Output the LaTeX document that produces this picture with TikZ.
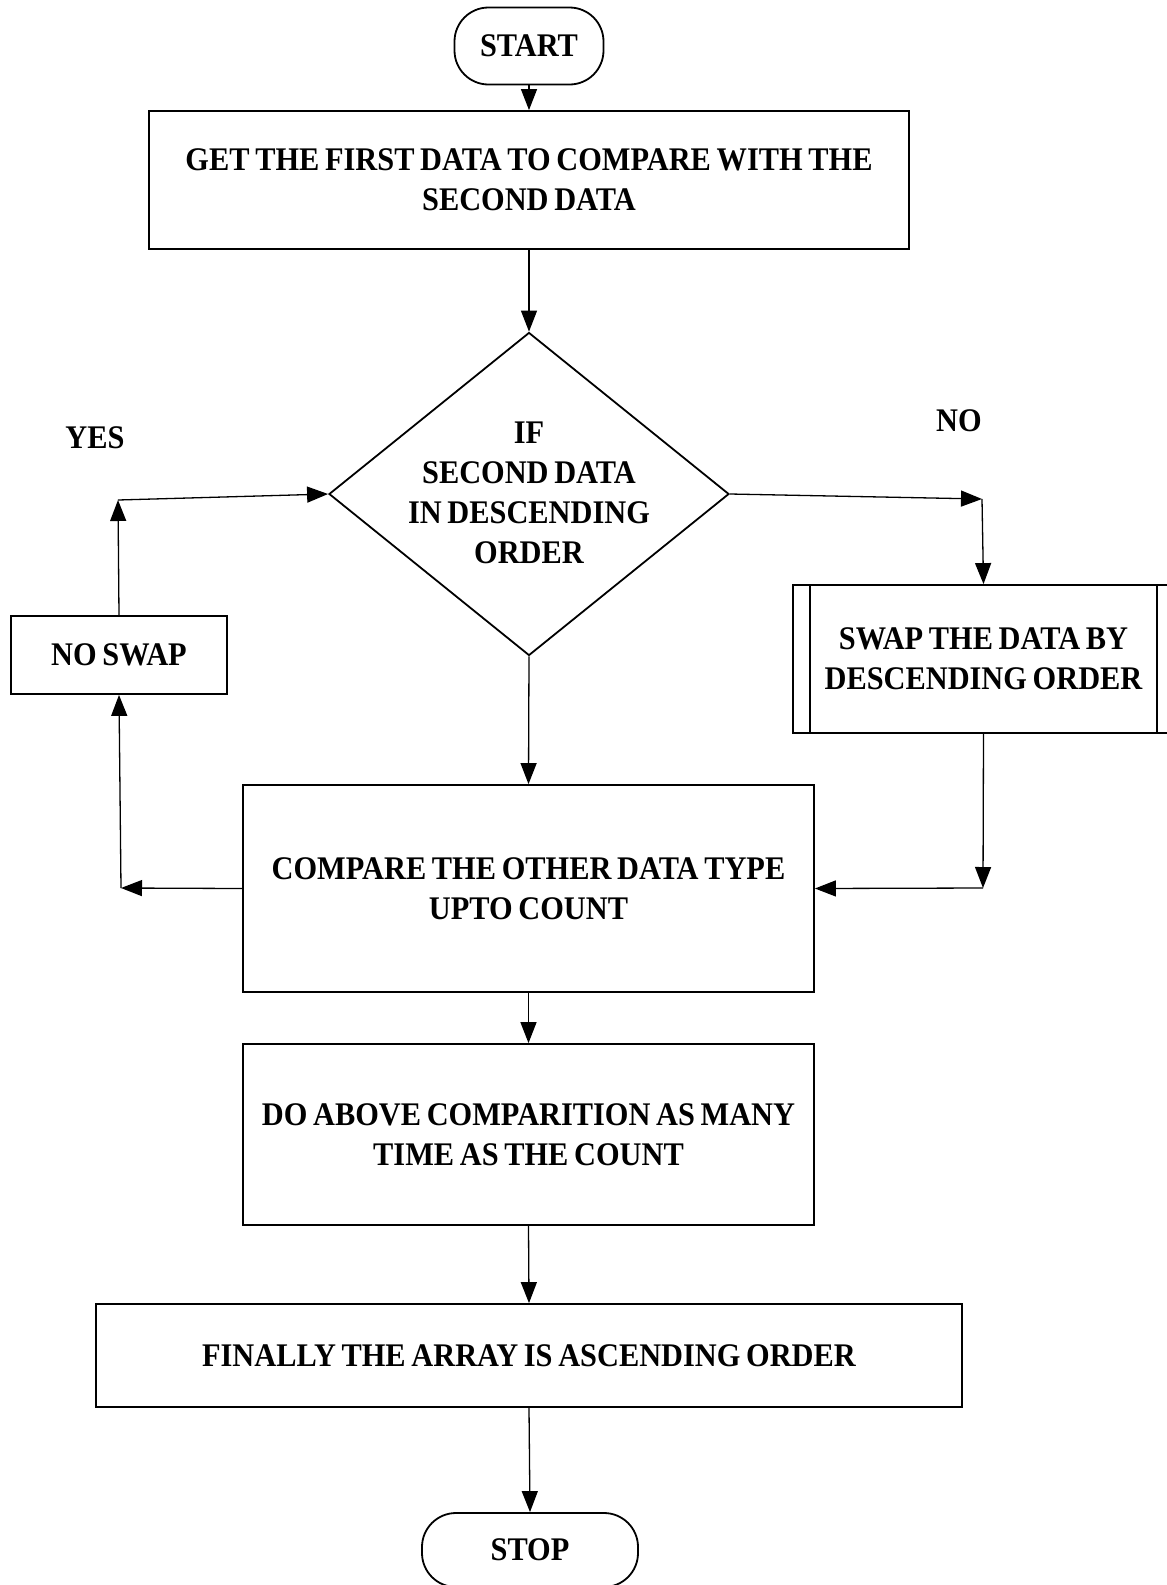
\documentclass[tikz,border=0pt]{standalone}
\usepackage{fontspec}
\setmainfont{Liberation Serif}[FakeStretch=0.92,WordSpace=0.75]
\usetikzlibrary{arrows.meta,shapes.geometric}
\begin{document}
\begin{tikzpicture}[x=1pt,y=-1pt,
  every node/.style={font=\fontsize{33}{40}\selectfont\bfseries, align=center, inner sep=0pt},
  box/.style={draw, line width=1.8pt, rectangle},
  term/.style={draw, line width=1.8pt, rectangle, rounded corners=34pt},
  arr/.style={line width=1.3pt, -{Triangle[length=21pt,width=16pt]}}]
\clip (0,0) rectangle (1167,1585);
\node[term, minimum width=149pt, minimum height=77pt] (start) at (529,46) {START};
\node[box, minimum width=760pt, minimum height=138pt] (b1) at (529,180) {GET THE FIRST DATA TO COMPARE WITH THE\\SECOND DATA};
\node[draw, line width=1.8pt, diamond, minimum width=400pt, minimum height=323pt] (dia) at (529,494) {};
\node (diat) at (529,493) {IF\\SECOND DATA\\IN DESCENDING\\ORDER};
\node[box, minimum width=216pt, minimum height=78pt] (noswap) at (119,655) {NO SWAP};
\node[box, minimum width=381pt, minimum height=148pt] (swap) at (983.5,659) {SWAP THE DATA BY\\DESCENDING ORDER};
\draw[line width=1.8pt] ([xshift=18pt]swap.north west) -- ([xshift=18pt]swap.south west);
\draw[line width=1.8pt] ([xshift=-18pt]swap.north east) -- ([xshift=-18pt]swap.south east);
\node[box, minimum width=571pt, minimum height=207pt] (cmp) at (528.5,888.5) {COMPARE THE OTHER DATA TYPE\\UPTO COUNT};
\node[box, minimum width=571pt, minimum height=181pt] (b3) at (528.5,1134.5) {DO ABOVE COMPARITION AS MANY\\TIME AS THE COUNT};
\node[box, minimum width=866pt, minimum height=103pt] (b4) at (529,1355.5) {FINALLY THE ARRAY IS ASCENDING ORDER};
\node[term, minimum width=216pt, minimum height=74pt] (stop) at (530,1550) {STOP};
\node (yes) at (95,438) {YES};
\node (no) at (959,421) {NO};
\coordinate (c1) at (118,500);
\coordinate (c2) at (982,499);
\coordinate (c3) at (983,888);
\coordinate (c4) at (121,888);
\draw[arr] (start.south) -- (b1.north);
\draw[arr] (b1.south) -- (dia.north);
\draw[arr] (noswap.north) -- (c1);
\draw[arr] (c1) -- (dia.west);
\draw[arr] (dia.east) -- (c2);
\draw[arr] (c2) -- (swap.north);
\draw[arr] (swap.south) -- (c3);
\draw[arr] (c3) -- (cmp.east);
\draw[arr] (cmp.west) -- (c4);
\draw[arr] (c4) -- (noswap.south);
\draw[arr] (dia.south) -- (cmp.north);
\draw[arr] (cmp.south) -- (b3.north);
\draw[arr] (b3.south) -- (b4.north);
\draw[arr] (b4.south) -- (stop.north);
\end{tikzpicture}
\end{document}
